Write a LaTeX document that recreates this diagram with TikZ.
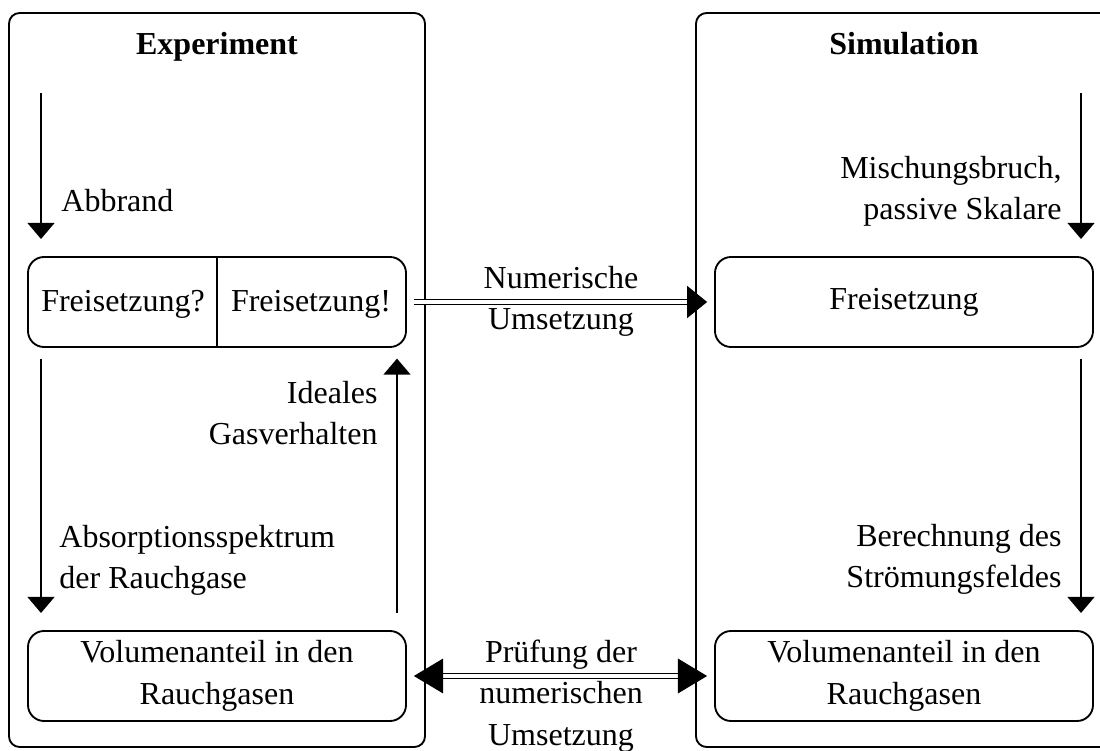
\documentclass[tikz,border=0pt]{standalone}
\usepackage{fontspec}
\setmainfont{Liberation Serif}
\usetikzlibrary{positioning}
\usetikzlibrary{arrows.meta}

\begin{document}
\begin{tikzpicture}[x=0.375pt, y=-0.375pt, font=\fontsize{12}{15.5}\selectfont, align=center,
        frame/.style={draw, line width=0.7pt, rounded corners=4pt, minimum width=156pt, minimum height=275.25pt},
        stage/.style={draw, line width=0.7pt, rounded corners=6pt, minimum width=141.75pt, minimum height=33.75pt, inner sep=0pt},
        flow/.style={-{Triangle[length=6pt, width=10pt]}, line width=0.8pt},
        link/.style={double, line width=0.6pt, double distance=1.2pt, shorten <=2.6pt, shorten >=2.6pt}]
        \useasboundingbox (0,0) rectangle (1100,751);
        % Rahmen
        \node[frame] (exp) at (217,380) {};
        \node[frame] (sim) at (904,380) {};
        \node[anchor=base, font=\fontsize{12}{15.5}\selectfont\bfseries] (exptitle) at (217,55) {Experiment};
        \node[anchor=base, font=\fontsize{12}{15.5}\selectfont\bfseries] (simtitle) at (904,55) {Simulation};
        % Kaesten
        \node[stage] (frei) at (217,302) {};
        \draw[line width=0.7pt] (frei.north) -- (frei.south);
        \node[anchor=base] (frage) at (123,312) {Freisetzung?};
        \node[anchor=base] (ausruf) at (311,312) {Freisetzung!};
        \node[stage] (freisim) at (904,302) {Freisetzung};
        \node[stage] (volexp) at (217,676) {Volumenanteil in den\\Rauchgasen};
        \node[stage] (volsim) at (904,676) {Volumenanteil in den\\Rauchgasen};
        % Pfeile links
        \coordinate (lx) at (41,93);
        \coordinate (rx) at (1081,93);
        \coordinate (ux) at (397,0);
        \draw[flow, shorten >=6.4pt] (lx) -- (lx |- frei.north);
        \node[anchor=base west] (abbrand) at (52,212) {Abbrand};
        \draw[flow, shorten <=4pt, shorten >=6.4pt] (lx |- frei.south) -- (lx |- volexp.north);
        \node[anchor=base west, align=left] (absorp) at (50,589) {Absorptionsspektrum\\der Rauchgase};
        \draw[flow, shorten <=6.4pt, shorten >=4pt] (ux |- volexp.north) -- (ux |- frei.south);
        \node[anchor=base east, align=right] (ideal) at (387,445) {Ideales\\Gasverhalten};
        % Pfeile rechts
        \draw[flow, shorten >=6.4pt] (rx) -- (rx |- freisim.north);
        \node[anchor=base east, align=right] (misch) at (1071,220) {Mischungsbruch,\\passive Skalare};
        \draw[flow, shorten <=4pt, shorten >=6.4pt] (rx |- freisim.south) -- (rx |- volsim.north);
        \node[anchor=base east, align=right] (berech) at (1071,588) {Berechnung des\\Str\"omungsfeldes};
        % Verbindungen
        \draw[link, -{Triangle[length=7.5pt, width=12pt]}] (frei.east) -- (freisim.west);
        \node[anchor=base] (numum) at (561,330) {Numerische\\Umsetzung};
        \draw[link, {Triangle[length=11pt, width=13pt]}-{Triangle[length=11pt, width=13pt]}] (volexp.east) -- (volsim.west);
        \node[anchor=base] (pruef) at (561,745) {Pr\"ufung der\\numerischen\\Umsetzung};
\end{tikzpicture}
\end{document}
